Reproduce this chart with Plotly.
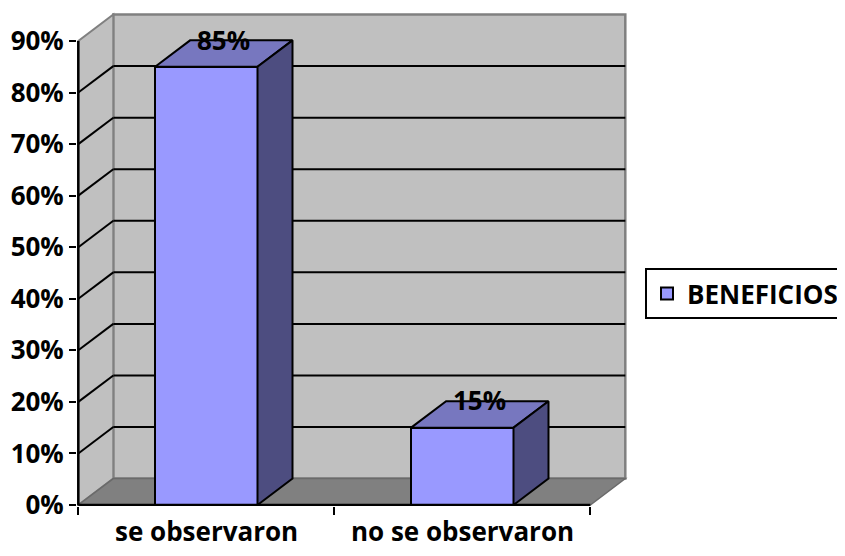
import plotly.graph_objects as go

# ---- data ----
categories = ["se observaron", "no se observaron"]
values = [85, 15]            # percent
value_labels = ["85%", "15%"]
series_name = "BENEFICIOS"
y_ticks = [0, 10, 20, 30, 40, 50, 60, 70, 80, 90]
y_tick_labels = [f"{t}%" for t in y_ticks]

# ---- style / geometry constants ----
W, H = 845, 556
BODY = 8  # default page margin of the html body
ML, MR, MT, MB = 77 - BODY, 216 + BODY, 12 - BODY, 50 + BODY
PX_X = 256.0      # pixels per category unit
PX_Y = 5.156      # pixels per percent
ZERO_PX_FROM_BOTTOM = 1.0
DX = 35 / PX_X    # depth offset in x units
DY = 26.4 / PX_Y  # depth offset in y units
BAR_W = 0.4
FONT = "Open Sans"
FS = 26

plot_w = W - ML - MR
plot_h = H - MT - MB
x0r = -0.5 - 1.3 / PX_X
xr = [x0r, x0r + plot_w / PX_X]
y0r = -ZERO_PX_FROM_BOTTOM / PX_Y
yr = [y0r, y0r + plot_h / PX_Y]

ymax = y_ticks[-1]
xl, xh = -0.5, len(categories) - 0.5

FRONT = "#9999FF"
TOP = "#7777BF"
SIDE = "#4D4D80"
WALL = "#C0C0C0"
FLOOR = "#808080"
EDGE = "#808080"

fig = go.Figure()

shapes = []
# back wall
shapes.append(dict(type="rect", xref="x", yref="y", x0=xl + DX, x1=xh + DX, y0=DY, y1=ymax + DY,
                   fillcolor=WALL, line=dict(color=EDGE, width=2.5), layer="below"))
# left wall
shapes.append(dict(type="path", xref="x", yref="y",
                   path=f"M{xl},0 L{xl},{ymax} L{xl+DX},{ymax+DY} L{xl+DX},{DY} Z",
                   fillcolor=WALL, line=dict(color=EDGE, width=2), layer="below"))
# floor
shapes.append(dict(type="path", xref="x", yref="y",
                   path=f"M{xl},0 L{xh},0 L{xh+DX},{DY} L{xl+DX},{DY} Z",
                   fillcolor=FLOOR, line=dict(color="#6a6a6a", width=1.5), layer="below"))
# gridlines
for t in y_ticks[1:-1]:
    shapes.append(dict(type="line", xref="x", yref="y", x0=xl + DX, x1=xh + DX, y0=t + DY, y1=t + DY,
                       line=dict(color="black", width=2), layer="below"))
    shapes.append(dict(type="line", xref="x", yref="y", x0=xl, x1=xl + DX, y0=t, y1=t + DY,
                       line=dict(color="black", width=2), layer="below"))
# axis lines
shapes.append(dict(type="line", xref="x", yref="y", x0=xl, x1=xl, y0=0, y1=ymax,
                   line=dict(color="black", width=2.5)))
shapes.append(dict(type="line", xref="x", yref="y", x0=xl, x1=xh, y0=0, y1=0,
                   line=dict(color="black", width=2.5)))

# front faces
fig.add_trace(go.Bar(x=list(range(len(categories))), y=values, width=BAR_W, name=series_name,
                     marker=dict(color=FRONT, line=dict(color="black", width=2)),
                     showlegend=True, hoverinfo="skip"))

# top and side faces
for i, v in enumerate(values):
    w = BAR_W / 2
    tx = [i - w, i + w, i + w + DX, i - w + DX, i - w]
    ty = [v, v, v + DY, v + DY, v]
    fig.add_trace(go.Scatter(x=tx, y=ty, fill="toself", fillcolor=TOP, mode="lines",
                             line=dict(color="black", width=2), showlegend=False, hoverinfo="skip"))
    sx = [i + w, i + w + DX, i + w + DX, i + w, i + w]
    sy = [0, DY, v + DY, v, 0]
    fig.add_trace(go.Scatter(x=sx, y=sy, fill="toself", fillcolor=SIDE, mode="lines",
                             line=dict(color="black", width=2), showlegend=False, hoverinfo="skip"))

annotations = []
for i, (v, lab) in enumerate(zip(values, value_labels)):
    annotations.append(dict(x=i + DX / 2, y=v + DY / 2, text=f"<b>{lab}</b>", showarrow=False,
                            xref="x", yref="y", yshift=14,
                            font=dict(family=FONT, size=FS, color="black")))
for i, c in enumerate(categories):
    annotations.append(dict(x=i, y=0, text=f"<b>{c}</b>", showarrow=False, xref="x", yref="y",
                            yanchor="middle", yshift=-26,
                            font=dict(family=FONT, size=FS, color="black")))

# legend position (screen pixels -> paper)
LEG_L, LEG_T = 645 - BODY, 268 - BODY
plot_bottom = H - MB

fig.update_layout(
    width=W, height=H,
    margin=dict(l=ML, r=MR, t=MT, b=MB, autoexpand=False),
    paper_bgcolor="white", plot_bgcolor="rgba(0,0,0,0)",
    shapes=shapes, annotations=annotations,
    bargap=0,
    font=dict(family=FONT, size=FS, color="black"),
    legend=dict(x=(LEG_L - ML) / plot_w, y=(plot_bottom - LEG_T) / plot_h, xanchor="left", yanchor="top",
                bordercolor="black", borderwidth=2, bgcolor="white",
                font=dict(family=FONT, size=26, color="black", weight="bold"),
                itemclick=False, itemdoubleclick=False),
    showlegend=True,
)
fig.update_xaxes(range=xr, showgrid=False, zeroline=False, showline=False,
                 tickmode="array", tickvals=[xl + k for k in range(len(categories) + 1)],
                 ticktext=["" for _ in range(len(categories) + 1)],
                 ticks="outside", ticklen=8, tickwidth=2, tickcolor="black", fixedrange=True)
fig.update_yaxes(range=yr, showgrid=False, zeroline=False, showline=False,
                 tickmode="array", tickvals=y_ticks,
                 ticktext=y_tick_labels,
                 ticks="outside", ticklen=7, tickwidth=2, tickcolor="black",
                 tickfont=dict(family=FONT, size=FS, color="black", weight="bold"), fixedrange=True)

fig.write_html("out.html")
